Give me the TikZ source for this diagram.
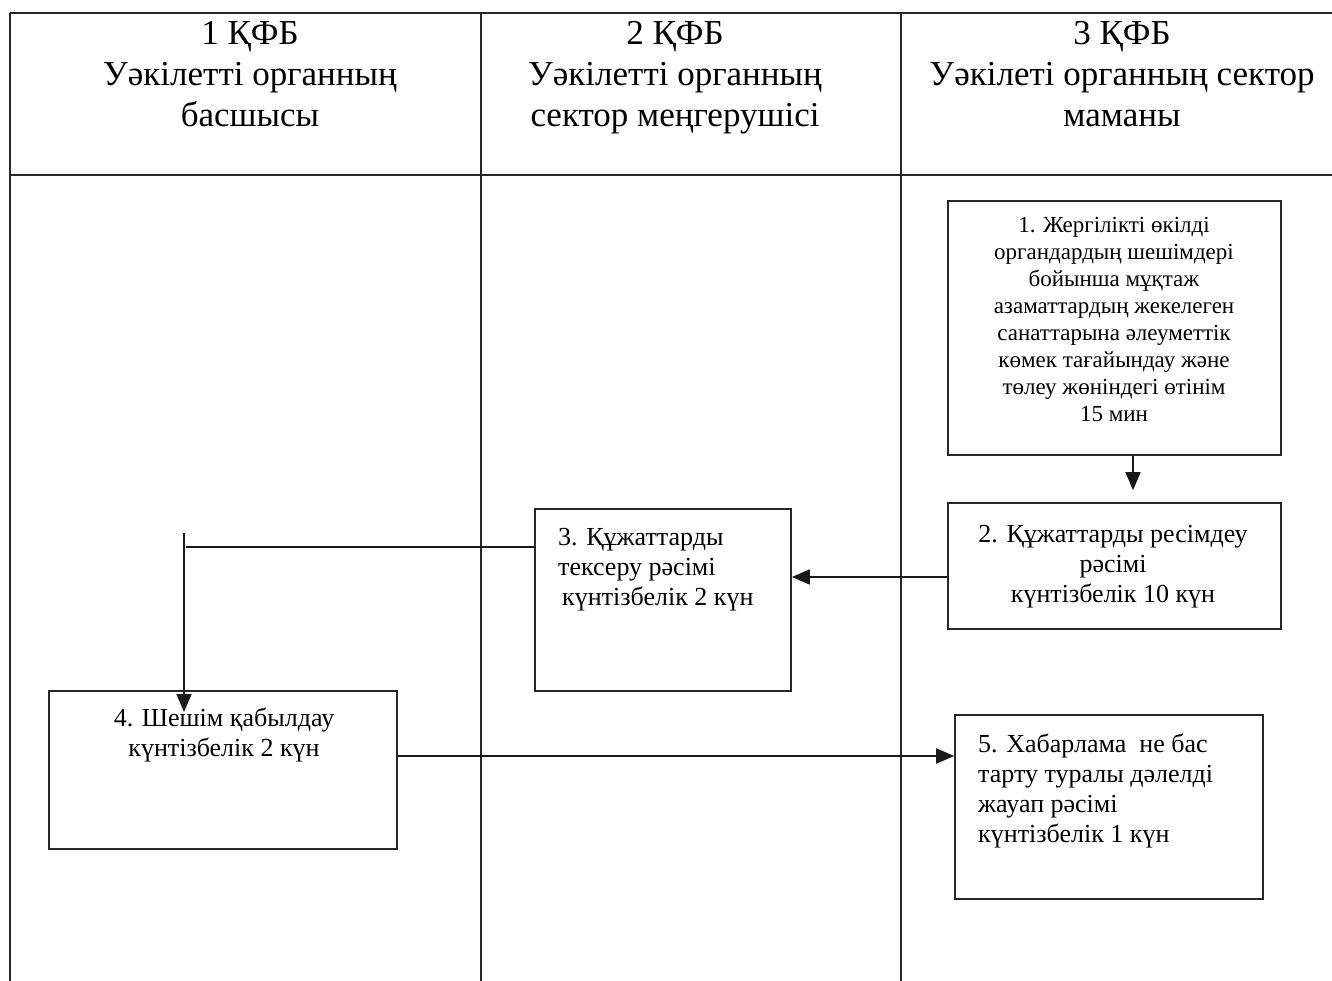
\documentclass[tikz,border=0pt]{standalone}
\usepackage{fontspec}
\setmainfont{Liberation Serif}
\usetikzlibrary{arrows.meta}
\begin{document}
\begin{tikzpicture}[x=1pt,y=-1pt,
  grid/.style={line width=1.6pt,draw=black!85},
  procbox/.style={draw=black!85,line width=1.6pt,rectangle,inner sep=0pt},
  headtxt/.style={anchor=north,inner sep=0pt,align=center,font=\fontsize{35}{41}\selectfont},
  smalltxt/.style={anchor=north,inner sep=0pt,align=center,font=\fontsize{23}{27}\selectfont},
  boxtxt/.style={anchor=north,inner sep=0pt,align=center,font=\fontsize{26}{30}\selectfont},
  lefttxt/.style={anchor=north west,inner sep=0pt,align=left,font=\fontsize{26}{30}\selectfont},
  conn/.style={line width=1.6pt,draw=black!90},
  arr/.style={conn,-{Triangle[length=18pt,width=15pt]}}]
\useasboundingbox (0,0) rectangle (1332,981);
% table grid
\draw[grid] (10,13) -- (1332,13);
\draw[grid] (10,175) -- (1332,175);
\draw[grid] (10,13) -- (10,981);
\draw[grid] (481,13) -- (481,981);
\draw[grid] (901,13) -- (901,981);
% headers
\node[headtxt] (h1) at (250,21) {1 ҚФБ\\Уәкілетті органның\\басшысы};
\node[headtxt] (h2) at (675,21) {2 ҚФБ\\Уәкілетті органның\\сектор меңгерушісі};
\node[headtxt] (h3) at (1122,21) {3 ҚФБ\\Уәкілеті органның сектор\\маманы};
% boxes
\node[procbox,minimum width=333pt,minimum height=254pt] (b1) at (1114.5,328) {};
\node[procbox,minimum width=333pt,minimum height=126pt] (b2) at (1114.5,566) {};
\node[procbox,minimum width=256pt,minimum height=182pt] (b3) at (663,600) {};
\node[procbox,minimum width=348pt,minimum height=158pt] (b4) at (223,770) {};
\node[procbox,minimum width=308pt,minimum height=184pt] (b5) at (1109,807) {};
% box texts
\node[smalltxt] (t1) at (1114,217) {1. Жергілікті өкілді\\органдардың шешімдері\\бойынша мұқтаж\\азаматтардың жекелеген\\санаттарына әлеуметтік\\көмек тағайындау және\\төлеу жөніндегі өтінім\\15 мин};
\node[boxtxt] (t2) at (1113,525) {2. Құжаттарды ресімдеу\\рәсімі\\күнтізбелік 10 күн};
\node[lefttxt] (t3) at (558,528) {3. Құжаттарды\\тексеру рәсімі\\\hspace*{4pt}күнтізбелік 2 күн};
\node[boxtxt] (t4) at (224,708) {4. Шешім қабылдау\\күнтізбелік 2 күн};
\node[lefttxt] (t5) at (978,734) {5. Хабарлама\ \ не бас\\тарту туралы дәлелді\\жауап рәсімі\\күнтізбелік 1 күн};
% connectors
\coordinate (x1) at (1133,0);
\coordinate (y2) at (0,577);
\coordinate (y3) at (0,547);
\coordinate (j3) at (186,547);
\coordinate (v0) at (184,533);
\coordinate (v1) at (184,712);
\coordinate (y4) at (0,756);
\draw[arr,shorten >=12pt] (b1.south -| x1) -- (b2.north -| x1);
\draw[arr] (b2.west |- y2) -- (b3.east |- y2);
\draw[conn] (b3.west |- y3) -- (j3);
\draw[arr] (v0) -- (v1);
\draw[arr] (b4.east |- y4) -- (b5.west |- y4);
\end{tikzpicture}
\end{document}
